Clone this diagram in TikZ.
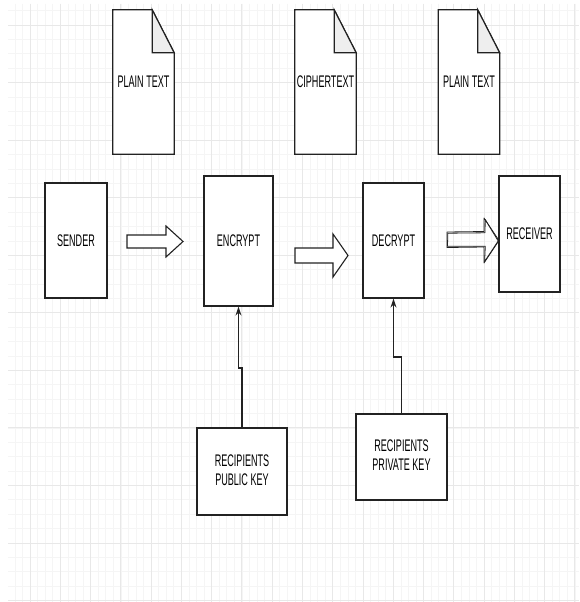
\documentclass[tikz,border=0pt]{standalone}
\usepackage{fontspec}
\setmainfont{Liberation Sans}
\usepackage{graphicx}
\usetikzlibrary{arrows.meta,calc}
\newcommand{\sq}[1]{\scalebox{0.54}[1]{#1}}
\newcommand{\sqtwo}[2]{\scalebox{0.54}[1]{\begin{tabular}{@{}c@{}}#1\\[-1pt]#2\end{tabular}}}
\definecolor{minorgrid}{HTML}{F5F5F5}
\definecolor{majorgrid}{HTML}{E8E8E8}
\definecolor{stroke}{HTML}{222222}
\definecolor{foldgray}{HTML}{EEEEEE}
\tikzset{
  boxnode/.style={draw=stroke, line width=1.2pt, fill=white, inner sep=0pt, font=\fontsize{16.8}{20}\selectfont},
  docnode/.style={inner sep=0pt, font=\fontsize{16.8}{20}\selectfont, minimum width=61pt, minimum height=144pt},
  docline/.style={draw=stroke, line width=1.2pt, fill=white, line join=miter},
  foldline/.style={draw=stroke, line width=1.2pt, fill=foldgray},
  blockarrow/.style={draw=stroke, line width=1.1pt, fill=white, line join=miter},
  sketcharrow/.style={draw=stroke, line width=0.8pt, line join=round},
  keyline/.style={draw=stroke, line width=1.1pt, -{Stealth[length=9pt,width=6pt]}}
}
\begin{document}
\begin{tikzpicture}[x=1pt,y=-1pt]
\useasboundingbox (0,0) rectangle (579,602);
\fill[white] (0,0) rectangle (579,602);
% grid
\begin{scope}
\clip (8,4) rectangle (579,602);
\foreach \i in {-3,...,76} \draw[minorgrid, line width=0.6pt] ({30+7.5675*\i},4) -- ({30+7.5675*\i},602);
\foreach \i in {-2,...,41} \draw[minorgrid, line width=0.6pt] (8,{25+14.3875*\i}) -- (579,{25+14.3875*\i});
\foreach \i in {-1,...,19} \draw[majorgrid, line width=0.8pt] ({30+30.27*\i},4) -- ({30+30.27*\i},602);
\foreach \i in {-1,...,10} \draw[majorgrid, line width=0.8pt] (8,{25+57.55*\i}) -- (579,{25+57.55*\i});
\end{scope}

% documents
\node[docnode] (doc1) at (143.5,82) {};
\node[docnode] (doc2) at (325.5,82) {};
\node[docnode] (doc3) at (469,82) {};
\foreach \d in {doc1,doc2,doc3} {
  \path[docline] (\d.north west) -- ($(\d.north east)+(-22,0)$) -- ($(\d.north east)+(0,43)$) -- (\d.south east) -- (\d.south west) -- cycle;
  \path[foldline] ($(\d.north east)+(-22,0)$) -- ($(\d.north east)+(0,43)$) -- ($(\d.north east)+(-22,43)$) -- cycle;
}
\node[font=\fontsize{16.8}{20}\selectfont] (t1) at (doc1.center) {\sq{PLAIN TEXT}};
\node[font=\fontsize{16.8}{20}\selectfont] (t2) at (doc2.center) {\sq{CIPHERTEXT}};
\node[font=\fontsize{16.8}{20}\selectfont] (t3) at (doc3.center) {\sq{PLAIN TEXT}};

% main boxes
\node[boxnode, minimum width=62pt, minimum height=115pt] (sender) at (76,240.5) {\sq{SENDER}};
\node[boxnode, minimum width=69pt, minimum height=130pt] (enc) at (238.5,241) {\sq{ENCRYPT}};
\node[boxnode, minimum width=61pt, minimum height=115pt] (dec) at (393.5,240.5) {\sq{DECRYPT}};
\node[boxnode, minimum width=61pt, minimum height=116pt] (recv) at (529.5,234) {\sq{RECEIVER}};
\node[boxnode, minimum width=90pt, minimum height=87pt] (pub) at (242,471.5) {\sqtwo{RECIPIENTS}{PUBLIC KEY}};
\node[boxnode, minimum width=91pt, minimum height=86pt] (priv) at (401.5,457) {\sqtwo{RECIPIENTS}{PRIVATE KEY}};

% block arrows
\path[blockarrow] (127,235) -- (166,235) -- (166,226) -- (183,241.5) -- (166,257) -- (166,248) -- (127,248) -- cycle;
\path[blockarrow] (295,248) -- (333,248) -- (333,234) -- (348,255.5) -- (333,277) -- (333,263) -- (295,263) -- cycle;
\path[sketcharrow] (447,232) -- (484,231.5) -- (484,218) -- (499,240.5) -- (484,263) -- (484,247) -- (447,247.5) -- cycle;
\path[sketcharrow] (447.8,233.2) -- (485,232.8) -- (485.2,219.5) -- (498.2,241) -- (484.6,261.5) -- (485.3,246.2) -- (447.5,246.3) -- cycle;

% key connectors
\coordinate (j1) at (enc.south |- 0,368);
\coordinate (j2) at (dec.south |- 0,357);
\draw[keyline] (pub.north) |- (j1) -- (enc.south);
\draw[keyline] (priv.north) |- (j2) -- (dec.south);
\end{tikzpicture}
\end{document}
